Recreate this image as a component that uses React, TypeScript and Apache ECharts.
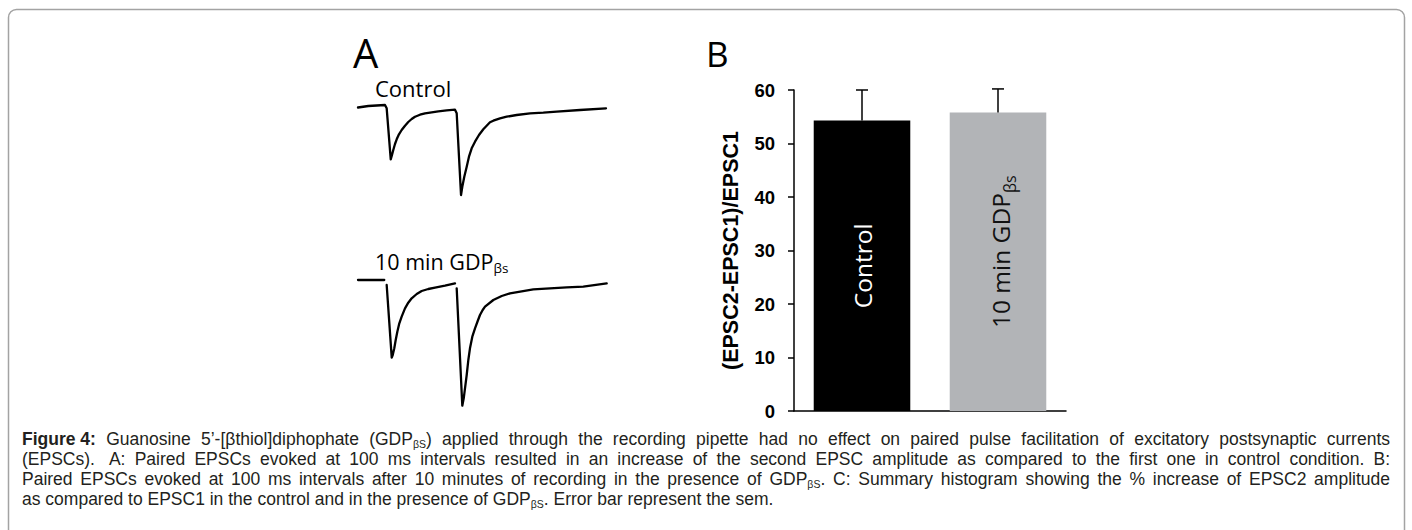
import React, { useEffect, useRef } from "react";
import * as echarts from "echarts";

// ---------- Panel B data ----------
const barCategories = ["Control", "10 min GDPβs"];
const barMeans = [54.3, 55.8];
const barSems = [5.7, 4.4];
const barColors = ["#000000", "#b2b4b7"];
const barLabelColors = ["#ffffff", "#111111"];
const yAxisName = "(EPSC2-EPSC1)/EPSC1";

// ---------- Panel A traces: [time (ms), current (pA)] ----------
const controlTrace: (number | null)[][] = [
  [0, -1], [14.5, 2], [38, 4], [40.4, -2.6], [46.1, -104.6], [47.5, -98],
  [49.7, -86], [52.1, -74], [54.5, -64.6], [57.7, -54.6], [61.5, -46],
  [66.2, -37.4], [70.8, -30], [75.6, -24], [80.3, -19.4], [87.3, -15.4],
  [94.4, -12.6], [103.8, -10.6], [113.1, -8.6], [124.9, -6.6], [136.6, -5.4],
  [139, -12.6], [145.1, -176], [146.9, -159.4], [149.7, -139.4], [153.1, -119.4],
  [156.3, -99.4], [160.1, -82.6], [164.8, -69.4], [170.4, -56], [176.5, -44.6],
  [185.9, -30.6], [190.6, -27.4], [200, -22.6], [209.4, -19.4], [223.5, -16],
  [242.3, -12.6], [261, -11.4], [279.9, -9.4], [312.7, -6], [349.3, -2.6],
];
const gdpTrace: (number | null)[][] = [
  [0, 0], [37, 0], [38.5, null], [40.4, -10], [47.5, -155.4], [48.9, -150],
  [51.1, -136.6], [53.1, -120], [55.4, -103.4], [58.2, -86.6], [61.5, -73.4],
  [66.2, -56.6], [70.8, -45.4], [75.6, -36.6], [82.7, -28], [89.7, -22],
  [99, -18], [108.5, -15.4], [122.5, -11.4], [136.6, -6.6], [137.8, null],
  [139, -16.6], [146.9, -251.4], [148.9, -236.6], [150.7, -216.6], [153.1, -190],
  [155.4, -160], [157.7, -136.6], [161, -113.4], [164.8, -96.6], [168.6, -82],
  [171.8, -70], [175.6, -60], [178.9, -53.4], [190.6, -40], [202.4, -32],
  [214.1, -26.6], [246.9, -18.6], [270.4, -16.6], [293.9, -14.6], [317.3, -13.4],
  [350.3, -6.6],
];
const traceLabels = ["Control", "10 min GDP"];

// ---------- Caption ----------
const captionLines = [
  "{b|Figure 4:} Guanosine 5’-[βthiol]diphophate (GDP{s|βS}) applied through the recording pipette had no effect on paired pulse facilitation of excitatory postsynaptic currents",
  "(EPSCs).  A: Paired EPSCs evoked at 100 ms intervals resulted in an increase of the second EPSC amplitude as compared to the first one in control condition. B:",
  "Paired EPSCs evoked at 100 ms intervals after 10 minutes of recording in the presence of GDP{s|βS}. C: Summary histogram showing the % increase of EPSC2 amplitude",
  "as compared to EPSC1 in the control and in the presence of GDP{s|βS}. Error bar represent the sem.",
];
const captionJustified = [true, true, true, false];

const CAP_FAMILY = "'Liberation Sans'";
const CAP_FONT = "'Liberation Sans', Arial, sans-serif";
const LBL_FONT = "'Open Sans', sans-serif";
const CAP_SIZE = 17.5;
const SUB_SIZE = 10.5;
const CAP_LEFT = 22;
const CAP_WIDTH = 1368;

type Seg = { t: string; st: "n" | "b" | "s" };

function parseLine(line: string): Seg[] {
  const out: Seg[] = [];
  const re = /\{(b|s)\|([^}]*)\}/g;
  let last = 0;
  let m: RegExpExecArray | null;
  while ((m = re.exec(line))) {
    if (m.index > last) out.push({ t: line.slice(last, m.index), st: "n" });
    out.push({ t: m[2], st: m[1] as "b" | "s" });
    last = m.index + m[0].length;
  }
  if (last < line.length) out.push({ t: line.slice(last), st: "n" });
  return out;
}

function buildCaption(line: string, justify: boolean, ctx: CanvasRenderingContext2D | null) {
  const segs = parseLine(line);
  const fontOf = (st: string) =>
    st === "b" ? `bold ${CAP_SIZE}px ${CAP_FAMILY}` : st === "s" ? `${SUB_SIZE}px ${CAP_FAMILY}` : `${CAP_SIZE}px ${CAP_FAMILY}`;
  const measure = (t: string, st: string) => {
    if (!ctx) return 0;
    ctx.font = fontOf(st);
    return ctx.measureText(t).width;
  };
  const rich: any = {
    b: { fontWeight: "bold", fontFamily: CAP_FONT, fontSize: CAP_SIZE, fill: "#231f20", lineHeight: 20 },
    s: { fontFamily: CAP_FONT, fontSize: SUB_SIZE, fill: "#231f20", verticalAlign: "bottom", lineHeight: 8 },
  };
  if (!justify || !ctx) {
    return { text: line, rich };
  }
  let natural = 0;
  let gaps = 0;
  segs.forEach((s) => {
    natural += measure(s.t, s.st);
    if (s.st === "n") gaps += (s.t.match(/ +/g) || []).length;
  });
  const extra = gaps > 0 ? Math.max(0, (CAP_WIDTH - natural) / gaps) : 0;
  const spW = measure(" ", "n");
  rich.g1 = { fontFamily: CAP_FONT, fontSize: CAP_SIZE, lineHeight: 20, width: spW + extra };
  rich.g2 = { fontFamily: CAP_FONT, fontSize: CAP_SIZE, lineHeight: 20, width: 2 * spW + extra };
  let text = "";
  segs.forEach((s) => {
    if (s.st !== "n") {
      text += `{${s.st}|${s.t}}`;
      return;
    }
    s.t.split(/( +)/).forEach((part) => {
      if (!part) return;
      if (/^ +$/.test(part)) text += part.length > 1 ? `{g2|${part}}` : `{g1|${part}}`;
      else text += part;
    });
  });
  return { text, rich };
}

export default function App() {
  const ref = useRef<HTMLDivElement>(null);
  useEffect(() => {
    if (!ref.current) return;
    const chart = echarts.init(ref.current, null, { renderer: "svg" });
    const ctx = document.createElement("canvas").getContext("2d");

    const captionGraphics = captionLines.map((line, i) => {
      const built = buildCaption(line, captionJustified[i], ctx);
      return {
        type: "text",
        left: CAP_LEFT,
        top: 429 + i * 20,
        silent: true,
        style: {
          text: built.text,
          fontFamily: CAP_FONT,
          fontSize: CAP_SIZE,
          fill: "#231f20",
          lineHeight: 20,
          rich: built.rich,
        },
      };
    });

    const option: any = {
      animation: false,
      backgroundColor: "#ffffff",
      grid: [
        { left: 358, top: 97, width: 248.5, height: 140 },
        { left: 358, top: 270, width: 248.5, height: 140 },
        { left: 794, top: 90, width: 272, height: 321 },
      ],
      xAxis: [
        { gridIndex: 0, type: "value", min: 0, max: 350, show: false },
        { gridIndex: 1, type: "value", min: 0, max: 350, show: false },
        {
          gridIndex: 2,
          type: "category",
          data: barCategories,
          axisLine: { lineStyle: { color: "#000", width: 1.5 } },
          axisTick: { show: false },
          axisLabel: { show: false },
        },
      ],
      yAxis: [
        { gridIndex: 0, type: "value", min: -260, max: 20, show: false },
        { gridIndex: 1, type: "value", min: -260, max: 20, show: false },
        {
          gridIndex: 2,
          type: "value",
          min: 0,
          max: 60,
          interval: 10,
          name: yAxisName,
          nameLocation: "middle",
          nameGap: 52,
          nameTextStyle: { fontFamily: "'Liberation Sans', Arial", fontWeight: "bold", fontSize: 21.5, color: "#000" },
          axisLine: { show: true, lineStyle: { color: "#000", width: 1.5 } },
          axisTick: { show: true, length: 6, lineStyle: { color: "#000", width: 1.5 } },
          splitLine: { show: false },
          axisLabel: { margin: 19, fontFamily: "'Liberation Sans', Arial", fontWeight: "bold", fontSize: 18.5, color: "#000" },
        },
      ],
      series: [
        {
          type: "line",
          xAxisIndex: 0,
          yAxisIndex: 0,
          data: controlTrace,
          showSymbol: false,
          connectNulls: false,
          lineStyle: { color: "#000", width: 2.3, join: "round", cap: "round" },
        },
        {
          type: "line",
          xAxisIndex: 1,
          yAxisIndex: 1,
          data: gdpTrace,
          showSymbol: false,
          connectNulls: false,
          lineStyle: { color: "#000", width: 2.3, join: "round", cap: "round" },
        },
        {
          type: "bar",
          xAxisIndex: 2,
          yAxisIndex: 2,
          barCategoryGap: "29%",
          data: barMeans.map((v, i) => ({
            value: v,
            itemStyle: { color: barColors[i] },
            label: {
              show: true,
              position: "inside",
              rotate: 90,
              offset: i === 0 ? [0, 0] : [10, 2],
              formatter: i === 0 ? "{n|Control}" : "{n|10 min GDP}{s|βs}",
              rich: {
                n: { fontFamily: LBL_FONT, fontSize: 24.5, color: barLabelColors[i], lineHeight: i === 0 ? 30 : 36 },
                s: { fontFamily: LBL_FONT, fontSize: 16, color: barLabelColors[i], verticalAlign: "bottom", lineHeight: 2 },
              },
            },
          })),
        },
        {
          type: "custom",
          xAxisIndex: 2,
          yAxisIndex: 2,
          z: 10,
          data: barMeans.map((m, i) => [i, m, m + barSems[i]]),
          renderItem: (params: any, api: any) => {
            const base = api.coord([api.value(0), api.value(1)]);
            const top = api.coord([api.value(0), api.value(2)]);
            const half = 6;
            return {
              type: "group",
              children: [
                { type: "line", shape: { x1: base[0], y1: base[1], x2: base[0], y2: top[1] }, style: { stroke: "#000", lineWidth: 1.5 } },
                { type: "line", shape: { x1: base[0] - half, y1: top[1], x2: base[0] + half, y2: top[1] }, style: { stroke: "#000", lineWidth: 1.5 } },
              ],
            };
          },
        },
      ],
      graphic: [
        {
          type: "rect",
          silent: true,
          z: -10,
          shape: { x: 8.5, y: 9.5, width: 1396, height: 600, r: 8 },
          style: { fill: "none", stroke: "#a3a3a3", lineWidth: 1.5 },
        },
        { type: "text", left: 353, top: 32, silent: true, style: { text: "A", fontFamily: LBL_FONT, fontSize: 40, fill: "#000" } },
        { type: "text", left: 706, top: 36, silent: true, style: { text: "B", fontFamily: LBL_FONT, fontSize: 35, fill: "#000" } },
        { type: "text", left: 375, top: 76.5, silent: true, style: { text: traceLabels[0], fontFamily: LBL_FONT, fontSize: 22, fill: "#000" } },
        {
          type: "text",
          left: 375,
          top: 250.5,
          silent: true,
          style: {
            text: "{n|" + traceLabels[1] + "}{s|βs}",
            rich: {
              n: { fontFamily: LBL_FONT, fontSize: 21.5, fill: "#000", lineHeight: 26 },
              s: { fontFamily: LBL_FONT, fontSize: 13.5, fill: "#000", verticalAlign: "bottom", lineHeight: 3 },
            },
          },
        },
        ...captionGraphics,
      ],
    };
    chart.setOption(option);
    return () => chart.dispose();
  }, []);
  return <div ref={ref} style={{ position: "absolute", left: 0, top: 0, width: 1412, height: 530 }} />;
}
